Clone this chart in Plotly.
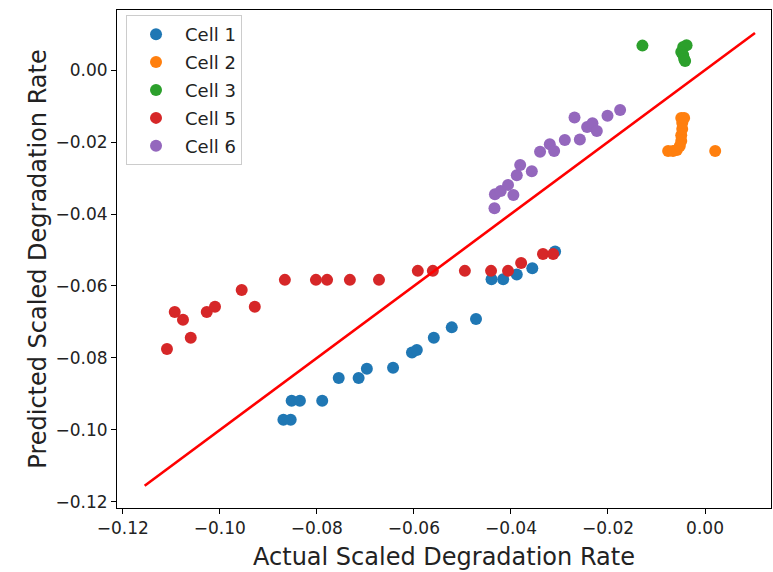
import plotly.graph_objects as go

# ---- data ----
cell1_actual = [-0.0869, -0.0854, -0.0852, -0.0835, -0.0789, -0.0755, -0.0714, -0.0697, -0.0643,
                -0.0604, -0.0594, -0.0559, -0.0522, -0.0472, -0.0440, -0.0416, -0.0388, -0.0356, -0.0309]
cell1_pred = [-0.0972, -0.0972, -0.0919, -0.0919, -0.0919, -0.0856, -0.0856, -0.0830, -0.0827,
              -0.0785, -0.0778, -0.0744, -0.0715, -0.0692, -0.0581, -0.0581, -0.0568, -0.0551, -0.0504]

cell2_actual = [-0.0076, -0.0066, -0.0058, -0.0052, -0.0049, -0.0049, -0.0047, -0.0047, -0.0049, -0.0043, 0.0021]
cell2_pred = [-0.0225, -0.0225, -0.0222, -0.0211, -0.0197, -0.0181, -0.0164, -0.0147, -0.0133, -0.0133, -0.0225]

cell3_actual = [-0.0129, -0.0038, -0.0045, -0.0049, -0.0045, -0.0043, -0.0041]
cell3_pred = [0.0068, 0.0069, 0.0064, 0.0050, 0.0042, 0.0031, 0.0025]

cell5_actual = [-0.1109, -0.1093, -0.1076, -0.1060, -0.1027, -0.1010, -0.0955, -0.0928, -0.0866, -0.0802,
                -0.0779, -0.0732, -0.0672, -0.0592, -0.0561, -0.0495, -0.0441, -0.0406, -0.0379, -0.0334, -0.0313]
cell5_pred = [-0.0775, -0.0672, -0.0694, -0.0744, -0.0672, -0.0658, -0.0611, -0.0658, -0.0583, -0.0583,
              -0.0583, -0.0583, -0.0583, -0.0558, -0.0558, -0.0558, -0.0558, -0.0558, -0.0536, -0.0511, -0.0511]

cell6_actual = [-0.0434, -0.0433, -0.0421, -0.0406, -0.0395, -0.0388, -0.0381, -0.0357, -0.0340, -0.0320,
                -0.0311, -0.0289, -0.0269, -0.0258, -0.0243, -0.0232, -0.0223, -0.0201, -0.0175]
cell6_pred = [-0.0384, -0.0345, -0.0336, -0.0319, -0.0347, -0.0292, -0.0264, -0.0281, -0.0227, -0.0206,
              -0.0225, -0.0194, -0.0132, -0.0193, -0.0158, -0.0148, -0.0169, -0.0127, -0.0111]

ideal_line = [-0.1155, 0.0103]

tick_values = [-0.12, -0.10, -0.08, -0.06, -0.04, -0.02, 0.00]

series = [
    ("Cell 1", cell1_actual, cell1_pred, "#1f77b4"),
    ("Cell 2", cell2_actual, cell2_pred, "#ff7f0e"),
    ("Cell 3", cell3_actual, cell3_pred, "#2ca02c"),
    ("Cell 5", cell5_actual, cell5_pred, "#d62728"),
    ("Cell 6", cell6_actual, cell6_pred, "#9467bd"),
]

FONT = "DejaVu Sans"
fig = go.Figure()
for i, (name, xs, ys, col) in enumerate(series):
    fig.add_trace(go.Scatter(
        x=xs, y=ys, mode="markers", name=name, legendgroup=f"g{i}",
        marker=dict(color=col, size=12, line=dict(width=0)),
    ))

fig.add_trace(go.Scatter(
    x=ideal_line, y=ideal_line, mode="lines", showlegend=False,
    line=dict(color="#ff0000", width=2.6),
))

axis_common = dict(
    showgrid=False, zeroline=False, showline=True, linecolor="black", linewidth=1,
    mirror=True, ticks="outside", ticklen=5, tickwidth=1, tickcolor="black",
    tickfont=dict(family=FONT, size=17, color="#222222"), tickformat=".2f",
    tickvals=tick_values,
)

fig.update_layout(
    width=773, height=572,
    margin=dict(l=117, r=2, t=10, b=64, autoexpand=False),
    paper_bgcolor="white", plot_bgcolor="white",
    font=dict(family=FONT, color="black"),
    xaxis=dict(range=[-0.1212, 0.0136],
               title=dict(text="Actual Scaled Degradation Rate", font=dict(family=FONT, size=24, color="#222222"), standoff=10),
               **axis_common),
    yaxis=dict(range=[-0.1217, 0.0167],
               title=dict(text="Predicted Scaled Degradation Rate", font=dict(family=FONT, size=24, color="#222222"), standoff=2),
               **axis_common),
    legend=dict(
        x=0.0138, y=0.99, xanchor="left", yanchor="top",
        bgcolor="rgba(255,255,255,0.8)", bordercolor="#cccccc", borderwidth=1,
        font=dict(family=FONT, size=18, color="#222222"),
        tracegroupgap=1.5, itemwidth=48,
    ),
    showlegend=True,
)

fig.write_html("out.html")
